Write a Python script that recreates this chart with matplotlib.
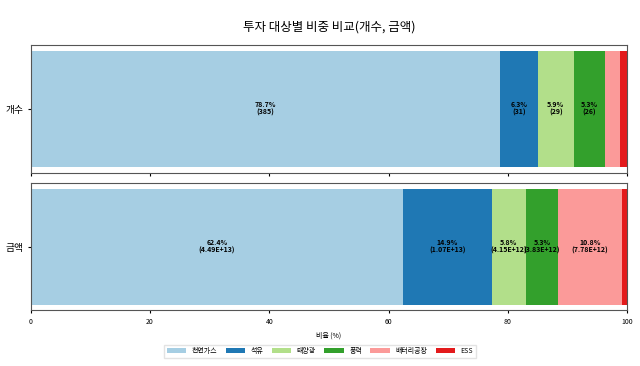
import matplotlib
matplotlib.use('Agg')
import matplotlib.pyplot as plt
import numpy as np

plt.rcParams['font.family'] = ['Noto Sans CJK KR', 'DejaVu Sans']

categories = ['천연가스', '석유', '태양광', '풍력', '배터리공장', 'ESS']
colors = ['#a6cee3', '#1f78b4', '#b2df8a', '#33a02c', '#fb9a99', '#e31a1c']

counts = [385, 31, 29, 26, 12, 6]
amounts = [4.49e13, 1.07e13, 4.15e12, 3.83e12, 7.78e12, 6.0e11]

fig, axes = plt.subplots(2, 1, figsize=(6.4, 3.66), dpi=100, sharex=True)


def draw_row(ax, values, name, fmt):
    values = np.array(values, dtype=float)
    pct = values / values.sum() * 100
    left = 0
    for cat, p, v, c in zip(categories, pct, values, colors):
        ax.barh([name], [p], left=left, color=c, label=cat)
        if p > 3:
            ax.text(left + p / 2, 0, f'{p:.1f}%\n({fmt(v)})', ha='center', va='center',
                    fontsize=5, fontweight='bold', linespacing=1.1)
        left += p
    ax.set_xlim(0, 100)
    ax.tick_params(axis='y', labelsize=7, length=2)
    ax.tick_params(axis='x', labelsize=5, length=2)
    for s in ax.spines.values():
        s.set_color('#555555')
        s.set_linewidth(0.8)


draw_row(axes[0], counts, '개수', lambda v: f'{int(v)}')
draw_row(axes[1], amounts, '금액', lambda v: f'{v:.2E}')

axes[1].set_xlabel('비율 (%)', fontsize=5)
fig.suptitle('투자 대상별 비중 비교(개수, 금액)', fontsize=9, x=0.514, y=0.945)

handles, labels = axes[0].get_legend_handles_labels()
fig.legend(handles, labels, loc='lower center', ncol=6, fontsize=5,
           bbox_to_anchor=(0.5, 0.012), handlelength=2.8, columnspacing=1.2,
           frameon=True, edgecolor='#dddddd', fancybox=False)

fig.subplots_adjust(left=0.048, right=0.98, top=0.877, bottom=0.152, hspace=0.08)
fig.savefig('out.png', dpi=100)
